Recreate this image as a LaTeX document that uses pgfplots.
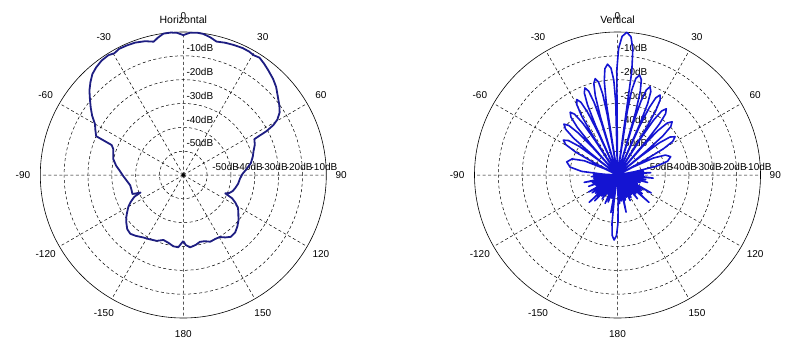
\documentclass[border=0pt]{standalone}
\usepackage{fontspec}
\setmainfont{Liberation Sans}
\usepackage{pgfplots}
\usepackage{pgfplotstable}
\usepgfplotslibrary{polar}
\pgfplotsset{compat=1.18}

\definecolor{hcol}{RGB}{30,30,130}
\definecolor{vcol}{RGB}{20,20,210}

\pgfplotstableread{
theta db
-180 -32.3
-176 -29.6
-172 -29.8
-168 -30.8
-163 -31.5
-158 -30.2
-152 -29.5
-147 -28.8
-142 -27.6
-138 -26.8
-134 -27.3
-130 -28.8
-127 -30.0
-124 -31.5
-120 -33.4
-117 -35.3
-114 -37.5
-112.3 -40.6
-110.5 -37.2
-106 -37.4
-101 -37.3
-96 -36.2
-91 -34.8
-86 -33.2
-82 -31.5
-77 -29.8
-73 -29.3
-69.5 -28.6
-67.3 -27.4
-66 -20.0
-63 -18.6
-60 -17.2
-57 -14.4
-54 -12.0
-51 -9.6
-48 -7.0
-45 -4.9
-42 -3.0
-39 -1.9
-35.5 -1.0
-32 -0.7
-29.5 -1.3
-27 -0.6
-23.5 -0.7
-20 -0.9
-16 -1.6
-12.5 -2.7
-10.5 -1.4
-8 -0.1
-5 0
-2.5 -0.3
0 -1.3
2.5 -0.3
5.5 0
8 -0.2
11 -1.1
14 -2.3
17.5 -1.8
21 -1.5
25 -1.2
28 -1.3
30.5 -1.7
33 -1.3
36 -2.3
39 -3.4
43 -4.8
46.5 -6.3
50 -8.3
54 -10.2
57 -11.8
59.5 -14.2
61 -16.8
62.2 -20.5
63.2 -26.6
67 -27.4
71 -28.8
75 -29.8
80 -31.2
85 -33.5
89 -35.2
94 -36.2
99 -36.7
104 -37.5
108 -38.2
111.5 -39.3
113.6 -40.8
115.5 -37.3
118 -35.2
121 -33.2
125 -31.8
129.5 -30.0
133.5 -28.7
138 -27.5
142.5 -27.3
146 -28.4
149.5 -29.8
153.5 -30.0
158 -29.8
162 -30.8
166 -31.1
170 -30.2
174.6 -29.5
178 -30.6
180 -32.3
}\horiz

\pgfplotstableread{
theta db
-88 -60
-86.75 -54.1
-84.25 -44.9
-80.5 -39.8
-75.5 -38.0
-70.5 -39.8
-66.75 -44.9
-64.25 -54.1
-63 -60
-62.43 -49.1
-61.28 -39.9
-59.55 -34.8
-57.25 -33.0
-54.95 -34.8
-53.23 -39.9
-52.08 -49.1
-51.5 -60
-51 -45.1
-50 -35.9
-48.5 -30.8
-46.5 -29.0
-44.5 -30.8
-43 -35.9
-42 -45.1
-41.5 -60
-41.05 -43.1
-40.15 -33.9
-38.8 -28.8
-37 -27.0
-35.2 -28.8
-33.85 -33.9
-32.95 -43.1
-32.5 -60
-32.09 -40.1
-31.26 -30.9
-30.03 -25.8
-28.38 -24.0
-26.73 -25.8
-25.49 -30.9
-24.66 -40.1
-24.25 -60
-23.88 -37.1
-23.13 -27.9
-22 -22.8
-20.5 -21.0
-19 -22.8
-17.88 -27.9
-17.13 -37.1
-16.75 -60
-16.38 -34.6
-15.63 -25.4
-14.5 -20.3
-13 -18.5
-11.5 -20.3
-10.38 -25.4
-9.63 -34.6
-9.25 -60
-8.84 -29.4
-8.01 -20.2
-6.78 -15.1
-5.13 -13.3
-3.48 -15.1
-2.24 -20.2
-1.41 -29.4
-0.9 -60
-0.4 -16.1
0.5 -6.9
1.9 -1.8
3.75 0
5.6 -1.8
6.95 -6.9
7.85 -16.1
8.3 -60
8.7 -33.1
9.5 -23.9
10.75 -18.8
12.4 -17.0
14.05 -18.8
15.3 -23.9
16.1 -33.1
16.5 -60
16.88 -36.6
17.63 -27.4
18.75 -22.3
20.25 -20.5
21.75 -22.3
22.88 -27.4
23.63 -36.6
24 -60
24.4 -38.1
25.2 -28.9
26.4 -23.8
28 -22.0
29.6 -23.8
30.8 -28.9
31.6 -38.1
32 -60
32.44 -41.6
33.31 -32.4
34.63 -27.3
36.38 -25.5
38.13 -27.3
39.44 -32.4
40.31 -41.6
40.75 -60
41.25 -44.1
42.25 -34.9
43.75 -29.8
45.75 -28.0
47.75 -29.8
49.25 -34.9
50.25 -44.1
50.75 -60
51.31 -47.1
52.44 -37.9
54.13 -32.8
56.38 -31.0
58.63 -32.8
60.31 -37.9
61.44 -47.1
62 -60
62.9 -52.5
64.7 -43.3
67.4 -38.2
71 -36.4
74.6 -38.2
77.3 -43.3
79.1 -52.5
80 -60
81 -52
82 -49
83.5 -60
85 -50
86 -46
87.5 -60
89 -51
90 -49
91.5 -60
93 -52
95 -45
96.5 -60
98 -53
99.5 -48
101 -60
102.5 -52
104 -47
105.5 -60
107 -53
108.5 -50
110 -60
111.5 -54
113 -51
114.5 -60
116 -52
118 -44
119.5 -60
121 -51
122.5 -48
124 -60
125.5 -52
127 -47
128.5 -60
129.5 -50
131 -42.5
132.5 -60
134 -52
135.5 -49
137 -60
138.5 -51
140 -47
141.5 -60
143 -53
144.5 -50
146 -60
147.5 -52
149 -49
150.5 -60
152 -53
153.5 -48
155 -60
156.5 -52
158 -50
159.5 -60
161 -53
162.5 -49
164 -60
165.5 -50
167 -44
168.5 -60
170 -52
171.5 -49
173 -60
174.5 -51
176 -48
177.5 -60
178.5 -48.8
179.5 -39.6
181 -34.5
183 -32.7
185 -34.5
186.5 -39.6
187.5 -48.8
188.5 -60
190 -44
191.5 -60
193 -52
194.5 -50
196 -60
197.5 -52
199 -48
200.5 -60
202 -53
203.5 -47
205 -60
206.5 -52
208 -51
209.5 -60
211 -53
212.5 -48
214 -60
215.5 -51
217 -49
218.5 -60
220 -50
221.5 -45.5
223 -60
224.5 -52
226 -43.5
227.5 -60
229 -51
230.5 -48
232 -60
233.5 -52
235 -47
236.5 -60
238 -51
239.5 -46
241 -60
242.5 -53
244 -50
245.5 -60
247 -52
248.5 -47
250 -60
251.5 -53
253 -49
254.5 -60
256 -50
257.5 -45.7
259 -60
260.5 -53
262 -50
263.5 -60
265 -52
266.5 -49
268 -60
269.5 -51
271 -50
272 -60
}\vert

\newcommand\polarlabels{%
  \node at (axis cs:90,66.7) {0};
  \node at (axis cs:60,66.7) {30};
  \node at (axis cs:30,66.7) {60};
  \node at (axis cs:0,66.2) {90};
  \node at (axis cs:-30,66.7) {120};
  \node at (axis cs:-60,66.7) {150};
  \node at (axis cs:-90,66.7) {180};
  \node at (axis cs:240,66.7) {-150};
  \node at (axis cs:210,66.7) {-120};
  \node at (axis cs:180,67.3) {-90};
  \node at (axis cs:150,66.7) {-60};
  \node at (axis cs:120,66.7) {-30};
  \node[anchor=south west,inner sep=0pt,xshift=3pt,yshift=4pt] at (axis cs:90,50) {-10dB};
  \node[anchor=south west,inner sep=0pt,xshift=3pt,yshift=4pt] at (axis cs:90,40) {-20dB};
  \node[anchor=south west,inner sep=0pt,xshift=3pt,yshift=4pt] at (axis cs:90,30) {-30dB};
  \node[anchor=south west,inner sep=0pt,xshift=3pt,yshift=4pt] at (axis cs:90,20) {-40dB};
  \node[anchor=south west,inner sep=0pt,xshift=3pt,yshift=4pt] at (axis cs:90,10) {-50dB};
  \node[anchor=south west,inner sep=0pt,xshift=5pt,yshift=4pt] at (axis cs:0,10) {-50dB};
  \node[anchor=south west,inner sep=0pt,xshift=5pt,yshift=4pt] at (axis cs:0,20) {-40dB};
  \node[anchor=south west,inner sep=0pt,xshift=6pt,yshift=4pt] at (axis cs:0,30) {-30dB};
  \node[anchor=south west,inner sep=0pt,xshift=7pt,yshift=4pt] at (axis cs:0,40) {-20dB};
  \node[anchor=south west,inner sep=0pt,xshift=8pt,yshift=4pt] at (axis cs:0,50) {-10dB};
}

\pgfplotsset{
  mypolar/.style={
    scale only axis, width=286pt, height=286pt,
    anchor=center, clip=false,
    xmin=0, xmax=360, ymin=0, ymax=60,
    xtick={0,30,...,330}, xticklabels={},
    ytick={10,20,30,40,50}, yticklabels={},
    major tick length=0pt,
    xmajorgrids, ymajorgrids,
    major grid style={black, line width=0.5pt, dash pattern=on 3pt off 2.5pt},
    separate axis lines,
    x axis line style={black, line width=0.6pt},
    y axis line style={draw=none},
  }
}

\begin{document}
\begin{tikzpicture}[font=\fontsize{10}{12}\selectfont]
\useasboundingbox (0,0) rectangle (810pt,356pt);
\begin{polaraxis}[mypolar, at={(183.3pt,181pt)}]
  \polarlabels
  \addplot[hcol, line width=1.8pt, line join=round, no markers]
    table[x expr=90-\thisrow{theta}, y expr=\thisrow{db}+60] {\horiz};
\end{polaraxis}
\node[anchor=base, font=\fontsize{10.5}{12}\selectfont] at (183.3pt,332pt) {Horizontal};

\begin{polaraxis}[mypolar, at={(617.5pt,181pt)}]
  \polarlabels
  \addplot[vcol, line width=1.6pt, line join=round, no markers]
    table[x expr=90-\thisrow{theta}, y expr=\thisrow{db}+60] {\vert};
\end{polaraxis}
\node[anchor=base, font=\fontsize{10.5}{12}\selectfont] at (617.5pt,332pt) {Vertical};
\end{tikzpicture}
\end{document}
